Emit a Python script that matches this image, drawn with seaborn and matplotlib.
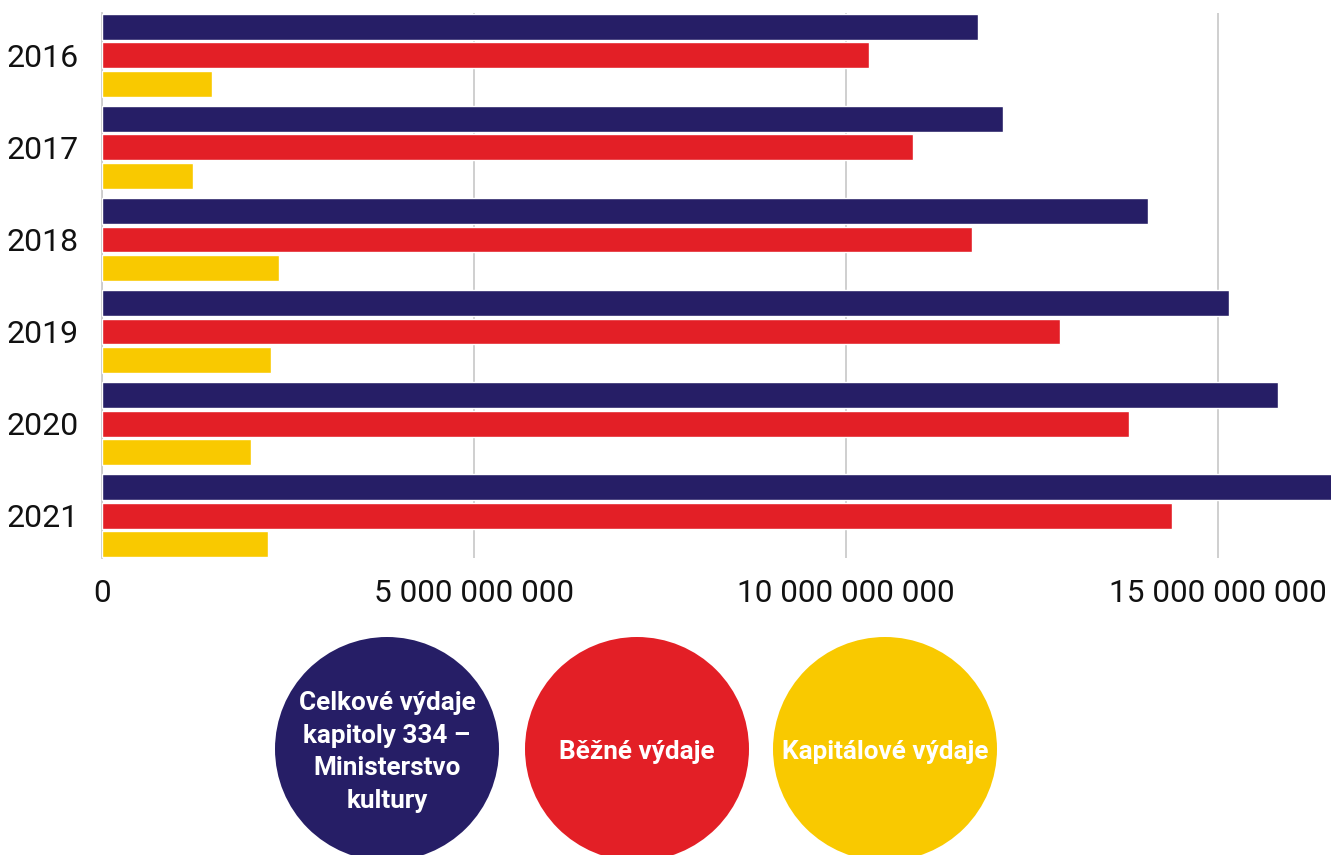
import matplotlib
matplotlib.use('Agg')
import matplotlib.pyplot as plt
import seaborn as sns
import pandas as pd
from matplotlib.patches import Circle

years = ['2016', '2017', '2018', '2019', '2020', '2021']
celkove = [11.77e9, 12.11e9, 14.06e9, 15.15e9, 15.81e9, 16.90e9]
bezne = [10.31e9, 10.90e9, 11.69e9, 12.88e9, 13.80e9, 14.38e9]
kapitalove = [1.48e9, 1.22e9, 2.38e9, 2.27e9, 2.00e9, 2.23e9]
series = ['Celkové výdaje kapitoly 334 – Ministerstvo kultury', 'Běžné výdaje', 'Kapitálové výdaje']
legend_labels = ['Celkové výdaje\nkapitoly 334 –\nMinisterstvo\nkultury', 'Běžné výdaje', 'Kapitálové výdaje']
colors = ['#261E66', '#E31F26', '#F9C900']
xticks = [0, 5e9, 10e9, 15e9]
xticklabels = ['0', '5 000 000 000', '10 000 000 000', '15 000 000 000']

rows = []
for vals, s in zip([celkove, bezne, kapitalove], series):
    for y, v in zip(years, vals):
        rows.append({'year': y, 'value': v, 'series': s})
df = pd.DataFrame(rows)

sns.set_style('white')
plt.rcParams['font.family'] = ['Roboto', 'DejaVu Sans']

W, H = 1331, 855
fig = plt.figure(figsize=(W / 100, H / 100), dpi=100)
ax = fig.add_axes([102 / W, 1 - 558 / H, 1 - 102 / W, (558 - 13) / H])

sns.barplot(data=df, y='year', x='value', hue='series', hue_order=series,
            order=years, palette=colors, orient='h', width=0.935, gap=0.1,
            errorbar=None, legend=False, ax=ax, saturation=1, zorder=3)

ax.set_xlim(0, 16.52e9)
ax.set_ylim(5.46, -0.46)
ax.set_xticks(xticks)
ax.set_xticklabels(xticklabels)
ax.set_xlabel('')
ax.set_ylabel('')
ax.xaxis.grid(True, color='#cccccc', linewidth=1.3, zorder=0)
ax.set_axisbelow(True)
for side in ['top', 'right', 'bottom']:
    ax.spines[side].set_visible(False)
ax.spines['left'].set_color('#cccccc')
ax.spines['left'].set_linewidth(1.3)
ax.tick_params(axis='x', length=0, pad=15, labelsize=22.7, labelcolor='#111111')
ax.tick_params(axis='y', length=0, pad=16.5, labelsize=23, labelcolor='#111111')

lax = fig.add_axes([0, 0, 1, 1], zorder=-1)
lax.set_xlim(0, W)
lax.set_ylim(H, 0)
lax.axis('off')
centers = [387, 637, 885]
for cx, c, lab in zip(centers, colors, legend_labels):
    lax.add_patch(Circle((cx, 749), 112, color=c, lw=0))
    lax.text(cx, 752, lab, ha='center', va='center', color='white',
             fontsize=18.8, fontweight='bold', linespacing=1.45)

fig.savefig('out.png', dpi=100)
